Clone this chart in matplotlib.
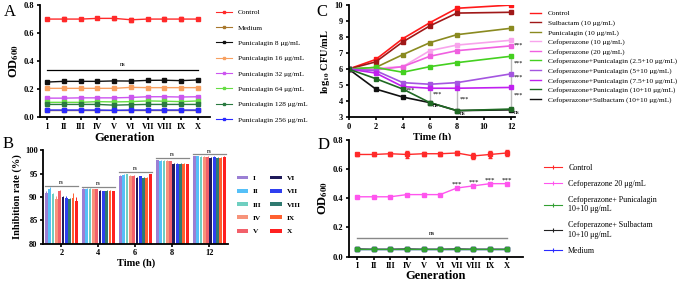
import numpy as np
import matplotlib.pyplot as plt
from matplotlib.lines import Line2D

plt.rcParams['font.family'] = ['Liberation Serif', 'DejaVu Serif']
plt.rcParams['mathtext.fontset'] = 'stix'

# ---------------- data ----------------
gens = ['I', 'II', 'III', 'IV', 'V', 'VI', 'VII', 'VIII', 'IX', 'X']

# panel A: OD600 per generation
a_labels = ['Control', 'Medium', 'Punicalagin 8 μg/mL', 'Punicalagin 16 μg/mL',
            'Punicalagin 32 μg/mL', 'Punicalagin 64 μg/mL', 'Punicalagin 128 μg/mL',
            'Punicalagin 256 μg/mL']
a_colors = ['#ff2a2a', '#a8782e', '#111111', '#f7a060', '#cc55f0', '#66dd44', '#2a7a40', '#2a2aff']
a_control = [0.700, 0.700, 0.700, 0.705, 0.705, 0.695, 0.700, 0.700, 0.700, 0.700]
a_control_err = [0.010, 0.015, 0.008, 0.008, 0.010, 0.015, 0.010, 0.012, 0.012, 0.008]
a_medium = [0.050, 0.050, 0.050, 0.050, 0.050, 0.050, 0.050, 0.050, 0.050, 0.050]
a_p8 = [0.250, 0.255, 0.255, 0.255, 0.258, 0.257, 0.262, 0.263, 0.260, 0.265]
a_p16 = [0.205, 0.205, 0.205, 0.205, 0.205, 0.212, 0.210, 0.210, 0.210, 0.210]
a_p32 = [0.135, 0.135, 0.137, 0.137, 0.137, 0.140, 0.145, 0.145, 0.143, 0.145]
a_p64 = [0.105, 0.105, 0.105, 0.110, 0.108, 0.110, 0.115, 0.113, 0.110, 0.115]
a_p128 = [0.090, 0.090, 0.090, 0.090, 0.085, 0.088, 0.090, 0.090, 0.090, 0.090]
a_p256 = [0.050, 0.050, 0.050, 0.050, 0.048, 0.050, 0.050, 0.050, 0.050, 0.050]
a_ns_level = 0.335

# panel B: inhibition rate (%) per time, one bar per generation
b_times = ['2', '4', '6', '8', '12']
b_colors = ['#9b7fd4', '#55c0f8', '#6fcfc0', '#f7937a', '#f2606a',
            '#1f1a5a', '#2f3ff0', '#2f7a70', '#ff6030', '#ff2020']
b_rates = np.array([
    [90.8, 91.6, 90.6, 89.5, 91.2, 90.0, 89.8, 89.5, 89.8, 89.2],   # 2 h
    [91.7, 91.8, 91.8, 91.7, 91.6, 91.3, 91.2, 91.3, 91.3, 91.2],   # 4 h
    [94.5, 94.7, 94.9, 94.5, 94.5, 94.1, 94.4, 94.1, 94.1, 94.9],   # 6 h
    [97.8, 97.7, 97.7, 97.7, 97.6, 97.0, 97.1, 97.1, 97.1, 97.0],   # 8 h
    [98.7, 98.7, 98.6, 98.6, 98.6, 98.4, 98.6, 98.4, 98.4, 98.6],   # 12 h
])
b_err = np.array([
    [0.5, 0.5, 0.2, 0.8, 0.2, 0.2, 0.4, 0.3, 1.0, 0.8],
    [0.2, 0.1, 0.1, 0.1, 0.1, 0.1, 0.1, 0.1, 0.1, 0.1],
    [0.1, 0.1, 0.1, 0.1, 0.1, 0.1, 0.1, 0.1, 0.1, 0.1],
    [0.1, 0.1, 0.1, 0.1, 0.1, 0.2, 0.1, 0.1, 0.2, 0.1],
    [0.1, 0.1, 0.1, 0.1, 0.1, 0.1, 0.1, 0.1, 0.1, 0.1],
])
b_ns_levels = [92.4, 92.2, 95.4, 98.3, 99.1]

# panel C: time-kill curves
c_time = [0, 2, 4, 6, 8, 12]
c_labels = ['Control', 'Sulbactam (10 μg/mL)', 'Punicalagin (10 μg/mL)',
            'Cefoperazone (10 μg/mL)', 'Cefoperazone (20 μg/mL)',
            'Cefoperazone+Punicalagin (2.5+10 μg/mL)', 'Cefoperazone+Punicalagin (5+10 μg/mL)',
            'Cefoperazone+Punicalagin (7.5+10 μg/mL)', 'Cefoperazone+Punicalagin (10+10 μg/mL)',
            'Cefoperazone+Sulbactam (10+10 μg/mL)']
c_colors = ['#ff1a1a', '#a01818', '#8a8a20', '#f8a4ec', '#f060e0',
            '#44d020', '#a455e0', '#c020f0', '#206a24', '#111111']
c_control = [6.0, 6.6, 7.9, 8.9, 9.8, 10.0]
c_sul = [6.0, 6.45, 7.7, 8.7, 9.5, 9.55]
c_pun = [6.0, 6.1, 6.9, 7.65, 8.15, 8.55]
c_cef10 = [6.0, 6.05, 6.15, 7.15, 7.5, 7.8]
c_cef20 = [6.0, 5.95, 6.15, 6.8, 7.15, 7.45]
c_cp25 = [6.0, 6.1, 5.8, 6.15, 6.4, 6.8]
c_cp5 = [6.0, 5.9, 5.15, 5.05, 5.15, 5.7]
c_cp75 = [6.0, 5.75, 4.9, 4.8, 4.8, 4.85]
c_cp10 = [6.0, 5.4, 4.75, 3.9, 3.4, 3.5]
c_cs = [6.0, 4.75, 4.25, 3.9, 3.4, 3.45]

# panel D: OD600 per generation
d_labels = ['Control', 'Cefoperazone 20 μg/mL', 'Cefoperazone+ Punicalagin\n10+10 μg/mL',
            'Cefoperazone+ Sulbactam\n10+10 μg/mL', 'Medium']
d_colors = ['#ff2a2a', '#ff55ee', '#33a033', '#222222', '#2a2aff']
d_control = [0.700, 0.700, 0.705, 0.700, 0.705, 0.705, 0.710, 0.690, 0.700, 0.710]
d_control_err = [0.010, 0.012, 0.015, 0.025, 0.015, 0.015, 0.012, 0.022, 0.022, 0.022]
d_cef20 = [0.410, 0.410, 0.410, 0.425, 0.425, 0.425, 0.470, 0.485, 0.500, 0.500]
d_cef20_err = [0.004, 0.002, 0.004, 0.006, 0.004, 0.004, 0.004, 0.006, 0.004, 0.004]
d_cp = [0.050, 0.050, 0.050, 0.050, 0.050, 0.050, 0.050, 0.050, 0.050, 0.050]
d_cs = [0.052, 0.050, 0.050, 0.052, 0.050, 0.050, 0.052, 0.050, 0.050, 0.050]
d_medium = [0.050, 0.050, 0.050, 0.050, 0.050, 0.050, 0.050, 0.050, 0.050, 0.050]
d_ns_level = 0.125


def style_axes(ax):
    for side in ['top', 'right']:
        ax.spines[side].set_visible(False)
    for side in ['left', 'bottom']:
        ax.spines[side].set_linewidth(1.3)
    ax.tick_params(width=1.2, length=2.5, labelsize=6.0, pad=1.5)
    for lab in ax.get_xticklabels() + ax.get_yticklabels():
        lab.set_fontweight('bold')


fig = plt.figure(figsize=(6.85, 2.82), dpi=100)

# ---------------- panel A ----------------
axA = fig.add_axes([0.058, 0.585, 0.248, 0.397])
x = np.arange(len(gens))
a_series = [a_control, a_medium, a_p8, a_p16, a_p32, a_p64, a_p128, a_p256]
for i, (vals, col, lab) in enumerate(zip(a_series, a_colors, a_labels)):
    err = a_control_err if i == 0 else None
    axA.errorbar(x, vals, yerr=err, color=col, marker='s', ms=2.3, lw=1.0,
                 capsize=1.5, elinewidth=1.5, label=lab)
axA.plot([x[0], x[-1]], [a_ns_level] * 2, color='black', lw=0.9)
axA.text(4.5, a_ns_level + 0.02, 'ns', ha='center', va='bottom', fontsize=4.5)
axA.set_xlim(-0.45, 9.7)
axA.set_ylim(0, 0.8)
axA.set_yticks([0.0, 0.2, 0.4, 0.6, 0.8])
axA.set_xticks(x)
axA.set_xticklabels(gens)
axA.set_ylabel('OD$_{\\mathbf{600}}$', fontsize=9, fontweight='bold', labelpad=2)
axA.set_xlabel('Generation', fontsize=9, fontweight='bold', labelpad=1)
style_axes(axA)
a_handles = [Line2D([], [], color=c, lw=0.8, marker='s', ms=1.8) for c in a_colors]
axA.legend(a_handles, a_labels, loc='upper left', bbox_to_anchor=(1.02, 0.99),
           frameon=False, fontsize=5.3, labelspacing=1.25, handlelength=2.2,
           borderaxespad=0)
fig.text(0.005, 0.945, 'A', fontsize=12)

# ---------------- panel B ----------------
axB = fig.add_axes([0.063, 0.135, 0.27, 0.333])
n = len(gens)
bw = 0.09
for j in range(n):
    pos = np.arange(len(b_times)) + (j - (n - 1) / 2) * bw
    axB.bar(pos, b_rates[:, j], width=bw * 0.85, color=b_colors[j], label=gens[j],
            yerr=b_err[:, j], error_kw=dict(ecolor=b_colors[j], lw=0.7, capsize=0))
for k, lev in enumerate(b_ns_levels):
    axB.plot([k - 0.45, k + 0.45], [lev, lev], color='#888888', lw=0.9)
    axB.text(k, lev + 0.15, 'ns', ha='center', va='bottom', fontsize=4)
axB.set_xlim(-0.49, 4.51)
axB.set_ylim(80, 100)
axB.set_yticks([80, 85, 90, 95, 100])
axB.set_xticks(np.arange(len(b_times)))
axB.set_xticklabels(b_times)
axB.set_ylabel('Inhibition rate (%)', fontsize=7.5, fontweight='bold', labelpad=2)
axB.set_xlabel('Time (h)', fontsize=7.5, fontweight='bold', labelpad=1)
style_axes(axB)
handles, labels = axB.get_legend_handles_labels()
leg = axB.legend(handles, labels, loc='upper left', bbox_to_anchor=(1.03, 0.76), ncol=2,
                 frameon=False, fontsize=5.3, handlelength=1.6, handleheight=0.45,
                 handletextpad=0.6, labelspacing=1.05, columnspacing=1.2, borderaxespad=0)
for t in leg.get_texts():
    t.set_fontweight('bold')
fig.text(0.003, 0.475, 'B', fontsize=12)

# ---------------- panel C ----------------
axC = fig.add_axes([0.509, 0.585, 0.243, 0.397])
c_series = [c_control, c_sul, c_pun, c_cef10, c_cef20, c_cp25, c_cp5, c_cp75, c_cp10, c_cs]
# draw black (Cef+Sul) below dark green
order = [9, 0, 1, 2, 3, 4, 5, 6, 7, 8]
for i in order:
    axC.plot(c_time, c_series[i], color=c_colors[i], marker='s', ms=3.2, lw=1.2)
# significance brackets
axC.plot([6, 6], [4.8, 3.9], color='#bbbbbb', lw=1.0, zorder=0)
axC.plot([8, 8], [4.8, 3.4], color='#bbbbbb', lw=1.0, zorder=0)
axC.plot([12, 12], [6.8, 3.5], color='#bbbbbb', lw=1.0, zorder=0)
ann = [(4.2, 4.7, '***'), (6.2, 4.45, '***'), (6.2, 3.75, 'ns'), (8.2, 4.1, '***'),
       (8.2, 3.25, 'ns'), (12.2, 7.5, '***'), (12.2, 6.35, '***'), (12.2, 5.5, '***'),
       (12.2, 4.35, '***'), (12.2, 3.3, 'ns')]
for xx, yy, s in ann:
    axC.text(xx, yy, s, fontsize=4.5, ha='left', va='center')
axC.set_xlim(0, 12.3)
axC.set_ylim(3, 10)
axC.set_xticks([0, 2, 4, 6, 8, 10, 12])
axC.set_yticks(range(3, 11))
axC.set_ylabel('log$_{\\mathbf{10}}$ CFU/mL', fontsize=7.5, fontweight='bold', labelpad=2)
axC.set_xlabel('Time (h)', fontsize=7.5, fontweight='bold', labelpad=1)
style_axes(axC)
c_handles = [Line2D([], [], color=c, lw=1.0) for c in c_colors]
axC.legend(c_handles, c_labels, loc='upper left',
           bbox_to_anchor=(1.07, 0.98), frameon=False, fontsize=5.3, labelspacing=0.42,
           handlelength=1.6, handletextpad=0.9, borderaxespad=0)
fig.text(0.462, 0.945, 'C', fontsize=12)

# ---------------- panel D ----------------
axD = fig.add_axes([0.509, 0.09, 0.255, 0.414])
d_series = [d_control, d_cef20, d_cp, d_cs, d_medium]
d_errs = [d_control_err, d_cef20_err, None, None, None]
# medium first, green combination on top as in the figure
for i in [4, 3, 2, 1, 0]:
    axD.errorbar(x, d_series[i], yerr=d_errs[i], color=d_colors[i], marker='s', ms=2.3,
                 lw=1.0, capsize=1.5, elinewidth=2.0)
axD.plot([x[0], x[-1]], [d_ns_level] * 2, color='#888888', lw=1.0)
axD.text(4.5, d_ns_level + 0.015, 'ns', ha='center', va='bottom', fontsize=5)
for k in range(6, 10):
    axD.text(x[k], d_cef20[k] + 0.01, '***', ha='center', va='bottom', fontsize=5)
axD.set_xlim(-0.5, 10.0)
axD.set_ylim(0, 0.8)
axD.set_yticks([0.0, 0.2, 0.4, 0.6, 0.8])
axD.set_xticks(x)
axD.set_xticklabels(gens)
axD.set_ylabel('OD$_{\\mathbf{600}}$', fontsize=9, fontweight='bold', labelpad=2)
axD.set_xlabel('Generation', fontsize=9, fontweight='bold', labelpad=0)
style_axes(axD)
d_handles = [Line2D([], [], color=c, lw=0.8, marker='|', ms=3, mew=0.8) for c in d_colors]
axD.legend(d_handles, d_labels, loc='upper left', bbox_to_anchor=(1.1, 0.82),
           frameon=False, fontsize=5.8, labelspacing=1.0, handlelength=2.2,
           borderaxespad=0)
fig.text(0.463, 0.47, 'D', fontsize=12)

plt.savefig('out.png', dpi=100)
